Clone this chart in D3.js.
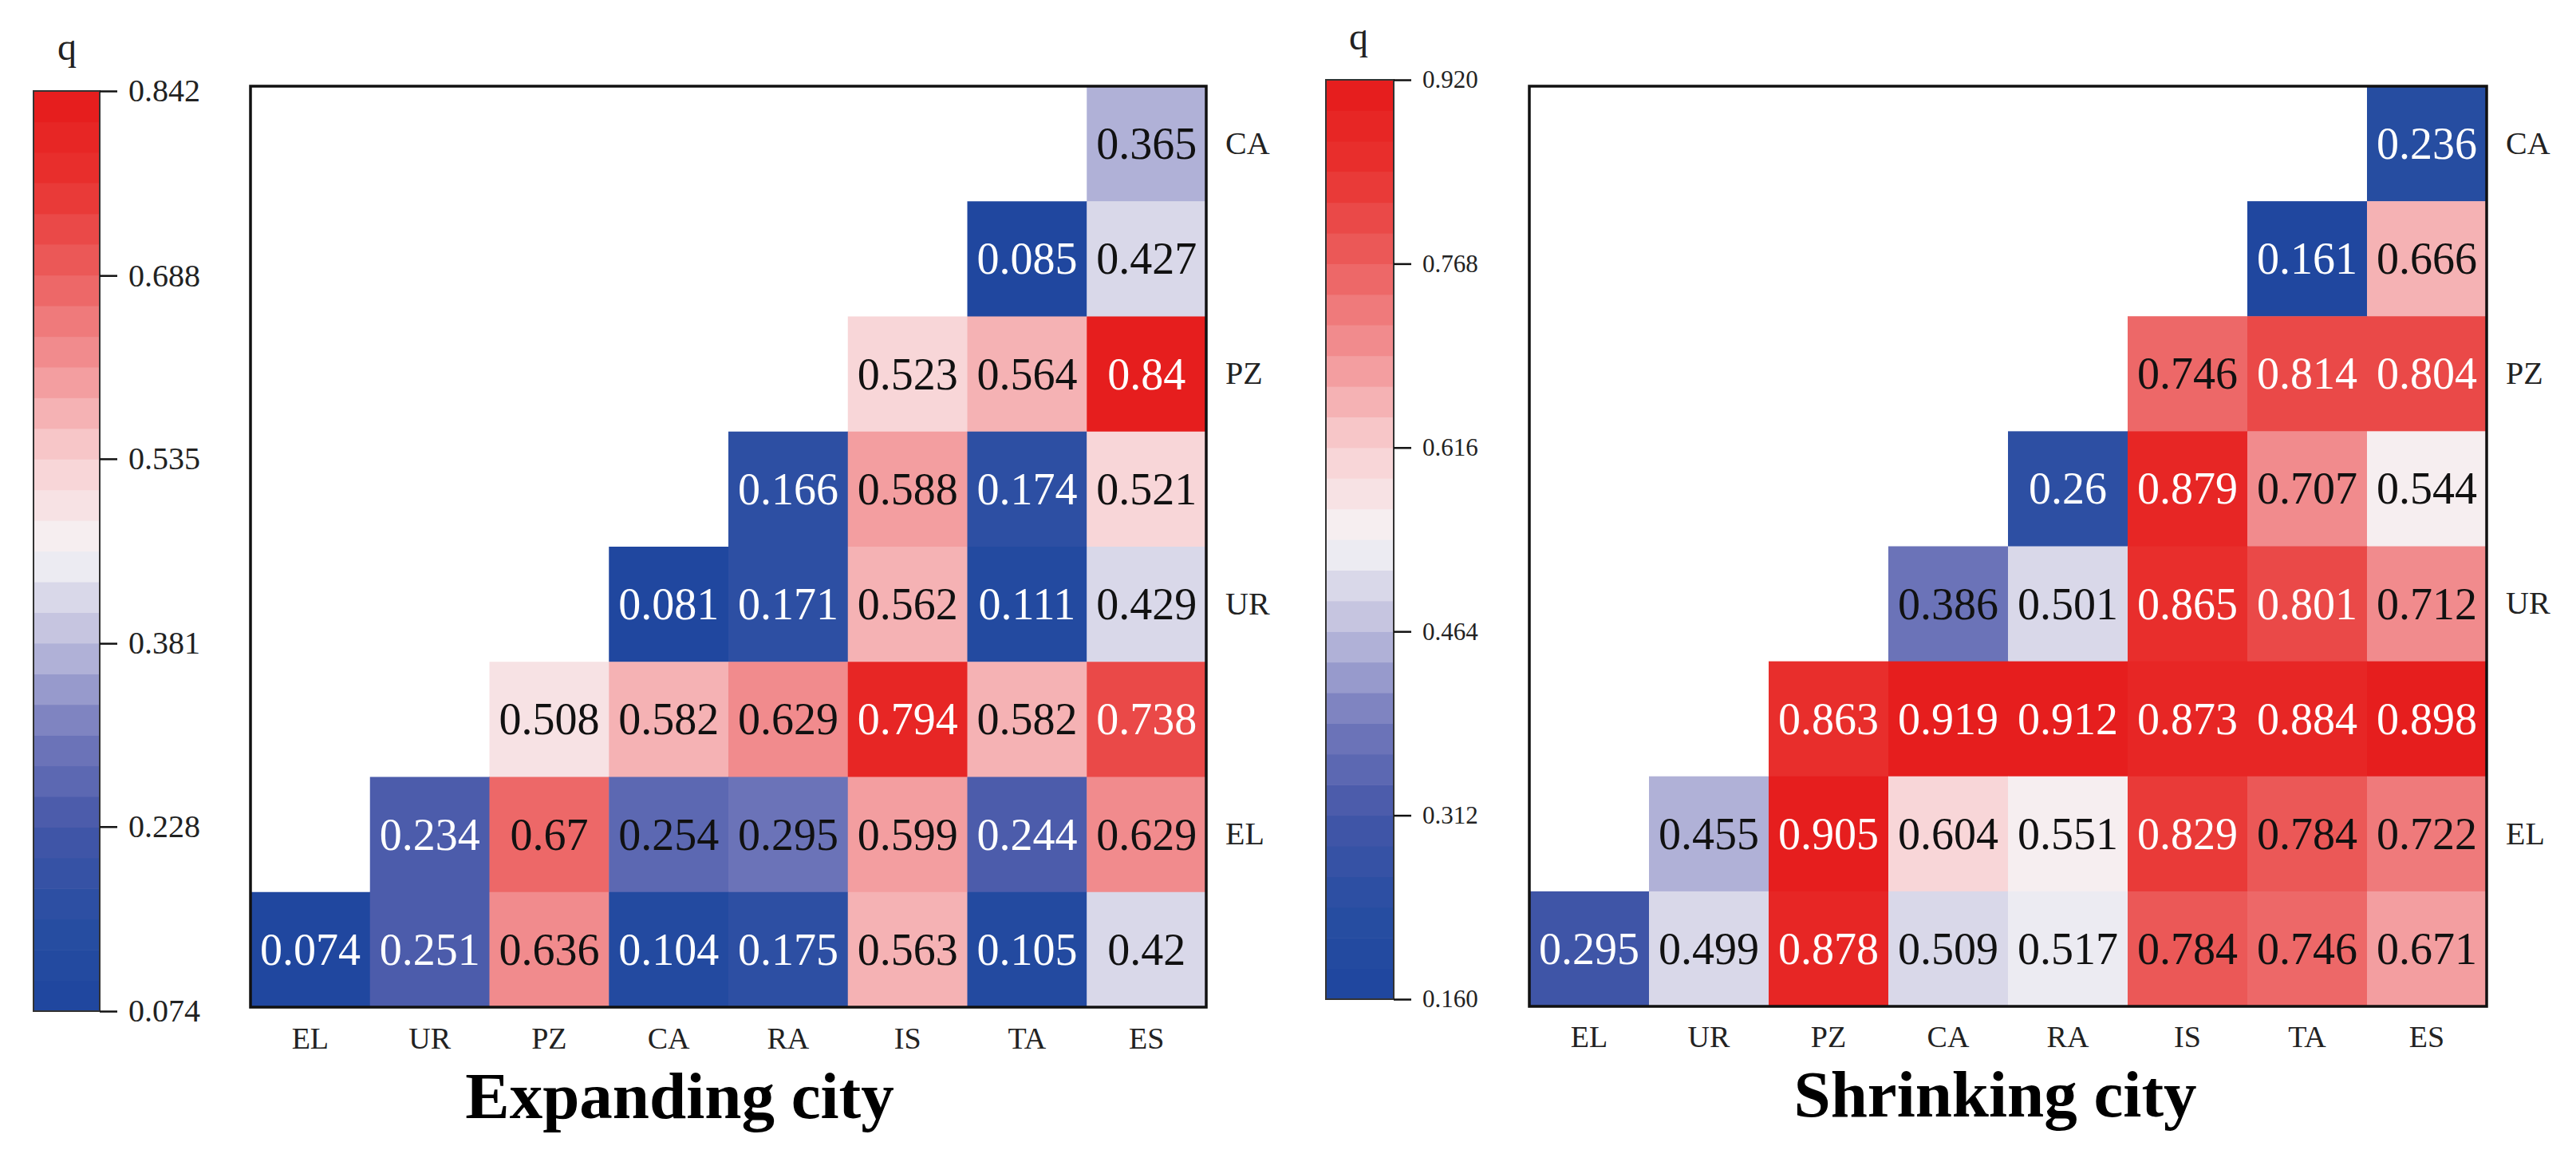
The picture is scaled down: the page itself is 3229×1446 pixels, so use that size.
<!DOCTYPE html>
<html>
<head>
<meta charset="utf-8">
<script src="https://cdn.jsdelivr.net/npm/d3@7"></script>
<style>
  body { margin: 0; background: #fff; }
  text { font-family: "Liberation Serif", "Times New Roman", serif; }
</style>
</head>
<body>
<script>
// categories and row labels (right side labels only on every other row, as in the figure)
var cats = ["EL", "UR", "PZ", "CA", "RA", "IS", "TA", "ES"];
var rowLabels = ["CA", "", "PZ", "", "UR", "", "EL", ""];

// triangle rows, top to bottom; each row is right-aligned to ES
var expandingRows = [
  [0.365],
  [0.085, 0.427],
  [0.523, 0.564, 0.84],
  [0.166, 0.588, 0.174, 0.521],
  [0.081, 0.171, 0.562, 0.111, 0.429],
  [0.508, 0.582, 0.629, 0.794, 0.582, 0.738],
  [0.234, 0.67, 0.254, 0.295, 0.599, 0.244, 0.629],
  [0.074, 0.251, 0.636, 0.104, 0.175, 0.563, 0.105, 0.42]
];
var shrinkingRows = [
  [0.236],
  [0.161, 0.666],
  [0.746, 0.814, 0.804],
  [0.26, 0.879, 0.707, 0.544],
  [0.386, 0.501, 0.865, 0.801, 0.712],
  [0.863, 0.919, 0.912, 0.873, 0.884, 0.898],
  [0.455, 0.905, 0.604, 0.551, 0.829, 0.784, 0.722],
  [0.295, 0.499, 0.878, 0.509, 0.517, 0.784, 0.746, 0.671]
];

var expandingTicks = [0.074, 0.228, 0.381, 0.535, 0.688, 0.842];
var shrinkingTicks = [0.160, 0.312, 0.464, 0.616, 0.768, 0.920];
var titles = ["Expanding city", "Shrinking city"];

// blue - white - red map, cut in 30 bands
var nBands = 30;
var cmap = d3.scaleLinear()
  .domain([0, 0.1, 0.2, 0.3, 0.4, 0.5, 0.6, 0.7, 0.8, 0.9, 1])
  .range(["#1e469e", "#284ea2", "#4456a8", "#7379bb", "#bcbcdc", "#f6f4f6",
          "#f8d0d2", "#f29496", "#ec5f5f", "#e83230", "#e61a1a"])
  .interpolate(d3.interpolateRgb)
  .clamp(true);

var svg = d3.select("body")
  .append("svg")
  .attr("width", 3229)
  .attr("height", 1446);

var panels = [
  { rows: expandingRows, ticks: expandingTicks, title: titles[0],
    cb: [42, 125, 114, 1267], frame: [314, 1512, 108, 1262],
    q: [84, 75], tickFont: 40, titleX: 852, titleY: 1401, xLabY: 1301 },
  { rows: shrinkingRows, ticks: shrinkingTicks, title: titles[1],
    cb: [1662, 1747, 100, 1252], frame: [1917, 3117, 108, 1261],
    q: [1703, 62], tickFont: 31, titleX: 2501, titleY: 1399, xLabY: 1299 }
];

panels.forEach(function(p) {
  var lo = p.ticks[0], hi = p.ticks[p.ticks.length - 1];
  var band = d3.scaleQuantize().domain([lo, hi]).range(d3.range(nBands));
  function fillOf(v) { return cmap((band(v) + 0.5) / nBands); }
  function inkOf(v) {
    var t = (v - lo) / (hi - lo);
    return (t < 0.233 || t > 0.83) ? "#fff" : "#111";
  }

  // ---- colour bar
  var cbY = d3.scaleLinear().domain([lo, hi]).range([p.cb[3], p.cb[2]]);
  var step = (hi - lo) / nBands;
  var g = svg.append("g");
  g.selectAll("rect.band")
    .data(d3.range(nBands))
    .enter().append("rect")
    .attr("class", "band")
    .attr("x", p.cb[0])
    .attr("width", p.cb[1] - p.cb[0])
    .attr("y", function(i) { return cbY(lo + (i + 1) * step); })
    .attr("height", function(i) { return cbY(lo + i * step) - cbY(lo + (i + 1) * step) + 0.6; })
    .attr("fill", function(i) { return cmap((i + 0.5) / nBands); });
  g.append("rect")
    .attr("x", p.cb[0]).attr("y", p.cb[2])
    .attr("width", p.cb[1] - p.cb[0]).attr("height", p.cb[3] - p.cb[2])
    .attr("fill", "none").attr("stroke", "#333").attr("stroke-width", 2);

  var cbAxis = svg.append("g")
    .attr("transform", "translate(" + p.cb[1] + ",0)")
    .call(d3.axisRight(cbY).tickValues(p.ticks).tickSize(22).tickPadding(14)
      .tickFormat(d3.format(".3f")));
  cbAxis.select(".domain").remove();
  cbAxis.selectAll("line").attr("stroke", "#111").attr("stroke-width", 2.5);
  cbAxis.selectAll("text")
    .attr("font-size", p.tickFont)
    .attr("fill", "#222")
    .style("font-family", '"Liberation Serif", "Times New Roman", serif');

  svg.append("text")
    .attr("x", p.q[0]).attr("y", p.q[1])
    .attr("text-anchor", "middle")
    .attr("font-size", 48)
    .attr("fill", "#222")
    .text("q");

  // ---- heat map
  var x = d3.scaleBand().domain(cats).range([p.frame[0], p.frame[1]]);
  var y = d3.scaleBand().domain(d3.range(8)).range([p.frame[2], p.frame[3]]);

  var cells = [];
  p.rows.forEach(function(row, r) {
    row.forEach(function(v, j) {
      cells.push({ r: r, c: cats[cats.length - row.length + j], v: v });
    });
  });

  var cg = svg.append("g");
  cg.selectAll("rect")
    .data(cells)
    .enter().append("rect")
    .attr("x", function(d) { return x(d.c); })
    .attr("y", function(d) { return y(d.r); })
    .attr("width", x.bandwidth() + 0.5)
    .attr("height", y.bandwidth() + 0.5)
    .attr("fill", function(d) { return fillOf(d.v); });

  cg.selectAll("text")
    .data(cells)
    .enter().append("text")
    .attr("x", function(d) { return x(d.c) + x.bandwidth() / 2; })
    .attr("y", function(d) { return y(d.r) + y.bandwidth() / 2; })
    .attr("text-anchor", "middle")
    .attr("dominant-baseline", "central")
    .attr("font-size", 56)
    .attr("fill", function(d) { return inkOf(d.v); })
    .text(function(d) { return String(d.v); });

  svg.append("rect")
    .attr("x", p.frame[0]).attr("y", p.frame[2])
    .attr("width", p.frame[1] - p.frame[0]).attr("height", p.frame[3] - p.frame[2])
    .attr("fill", "none").attr("stroke", "#111").attr("stroke-width", 3.5);

  // x labels
  var xa = svg.append("g")
    .attr("transform", "translate(0," + p.xLabY + ")")
    .call(d3.axisBottom(x).tickSize(0).tickPadding(0));
  xa.select(".domain").remove();
  xa.selectAll("text")
    .attr("font-size", 38)
    .attr("fill", "#222")
    .attr("y", 0)
    .attr("dy", "0.35em")
    .style("font-family", '"Liberation Serif", "Times New Roman", serif');

  // right-side row labels
  var ya = svg.append("g")
    .attr("transform", "translate(" + (p.frame[1] + 24) + ",0)")
    .call(d3.axisRight(y).tickSize(0).tickPadding(0)
      .tickFormat(function(i) { return rowLabels[i]; }));
  ya.select(".domain").remove();
  ya.selectAll("text")
    .attr("font-size", 40)
    .attr("fill", "#222")
    .style("font-family", '"Liberation Serif", "Times New Roman", serif');

  // title
  svg.append("text")
    .attr("x", p.titleX).attr("y", p.titleY)
    .attr("text-anchor", "middle")
    .attr("font-size", 83)
    .attr("font-weight", "bold")
    .attr("fill", "#000")
    .text(p.title);
});
</script>
</body>
</html>
